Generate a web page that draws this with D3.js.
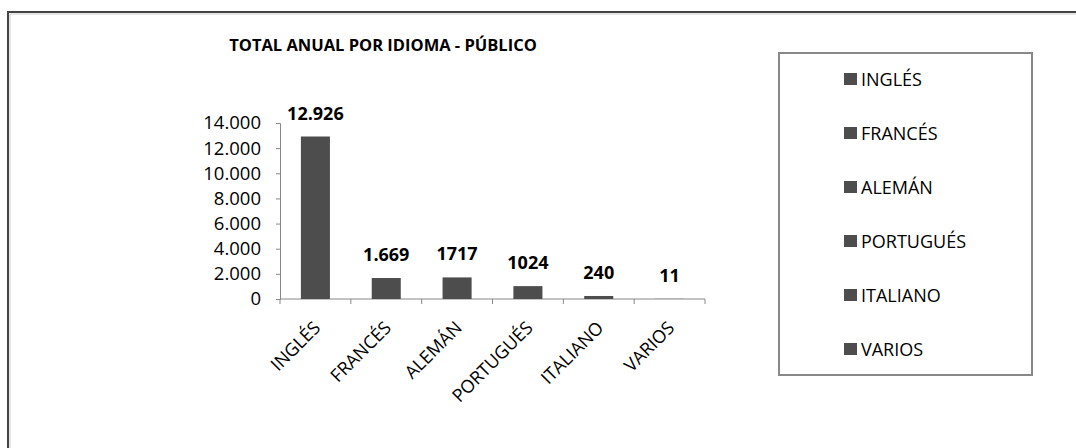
<!DOCTYPE html>
<html>
<head>
<meta charset="utf-8">
<script src="https://cdn.jsdelivr.net/npm/d3@7"></script>
<style>
  body { margin: 0; background: #fff; }
  text { font-family: "Open Sans", sans-serif; fill: #000; }
</style>
</head>
<body>
<script>
const categories = ['INGLÉS', 'FRANCÉS', 'ALEMÁN', 'PORTUGUÉS', 'ITALIANO', 'VARIOS'];
const values = [12926, 1669, 1717, 1024, 240, 11];
const valueLabels = ['12.926', '1.669', '1717', '1024', '240', '11'];
const yTicks = [0, 2000, 4000, 6000, 8000, 10000, 12000, 14000];
const title = 'TOTAL ANUAL POR IDIOMA - PÚBLICO';

const width = 1076;
const height = 448;
const barColor = '#4d4d4d';

const svg = d3.select('body').append('svg')
  .attr('width', width)
  .attr('height', height);

// outer frame (runs off right and bottom)
svg.append('rect')
  .attr('x', 8).attr('y', 12)
  .attr('width', width + 20).attr('height', height + 20)
  .attr('fill', '#fff')
  .attr('stroke', '#444')
  .attr('stroke-width', 2);
svg.append('rect')
  .attr('x', 10).attr('y', 14)
  .attr('width', width + 20).attr('height', height + 20)
  .attr('fill', 'none')
  .attr('stroke', '#ccc')
  .attr('stroke-width', 1);

svg.append('text')
  .attr('x', 383).attr('y', 51)
  .attr('text-anchor', 'middle')
  .attr('font-size', 16.5)
  .attr('font-weight', 'bold')
  .text(title);

const x = d3.scaleBand()
  .domain(categories)
  .range([280, 705])
  .paddingInner(0.59)
  .paddingOuter(0.295);

const y = d3.scaleLinear()
  .domain([0, 14000])
  .range([299, 123]);

const fmt = d => d3.format(',')(d).replace(/,/g, '.');

// y axis
const yAxis = svg.append('g')
  .attr('transform', 'translate(280,0)')
  .call(d3.axisLeft(y).tickValues(yTicks).tickFormat(fmt).tickSize(4).tickPadding(15));
yAxis.select('.domain').attr('stroke', '#888');
yAxis.selectAll('.tick line').attr('stroke', '#888');
yAxis.selectAll('.tick text')
  .attr('font-size', 18.5)
  .attr('font-family', '"Open Sans", sans-serif')
  .attr('fill', '#000');

// x axis
const xAxis = svg.append('g')
  .attr('transform', 'translate(0,299)');
xAxis.append('line')
  .attr('x1', 280).attr('x2', 705)
  .attr('stroke', '#888');
const bandEdges = categories.map(c => x(c) - x.step() * x.paddingInner() / 2).concat([705]);
xAxis.selectAll('.edge')
  .data(bandEdges)
  .enter()
  .append('line')
  .attr('x1', d => d).attr('x2', d => d)
  .attr('y1', 0).attr('y2', 5)
  .attr('stroke', '#888');

xAxis.selectAll('.xlab')
  .data(categories)
  .enter()
  .append('text')
  .attr('font-size', 18)
  .attr('text-anchor', 'end')
  .attr('transform', d => `translate(${x(d) + x.bandwidth() / 2 + 6},${30}) rotate(-45)`)
  .text(d => d);

// bars
svg.selectAll('.bar')
  .data(categories)
  .enter()
  .append('rect')
  .attr('x', d => x(d))
  .attr('width', x.bandwidth())
  .attr('y', (d, i) => y(values[i]))
  .attr('height', (d, i) => y(0) - y(values[i]))
  .attr('fill', barColor);

svg.selectAll('.vlab')
  .data(categories)
  .enter()
  .append('text')
  .attr('x', d => x(d) + x.bandwidth() / 2)
  .attr('y', (d, i) => y(values[i]) - 17)
  .attr('text-anchor', 'middle')
  .attr('font-size', 18)
  .attr('font-weight', 'bold')
  .text((d, i) => valueLabels[i]);

// legend
svg.append('rect')
  .attr('x', 779).attr('y', 53)
  .attr('width', 253).attr('height', 322)
  .attr('fill', 'none')
  .attr('stroke', '#888')
  .attr('stroke-width', 2);

const legend = svg.selectAll('.leg')
  .data(categories)
  .enter()
  .append('g')
  .attr('transform', (d, i) => `translate(844,${79 + i * 54})`);
legend.append('rect')
  .attr('x', 0).attr('y', -6)
  .attr('width', 13).attr('height', 12)
  .attr('fill', barColor);
legend.append('text')
  .attr('x', 17).attr('y', 7)
  .attr('font-size', 18)
  .text(d => d);
</script>
</body>
</html>
